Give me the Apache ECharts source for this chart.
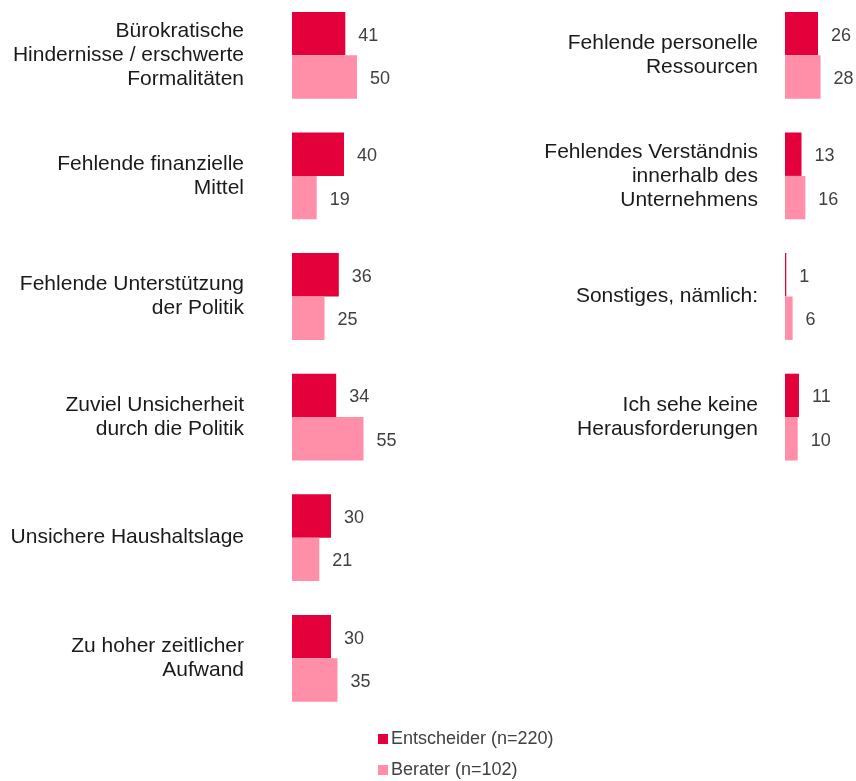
<!DOCTYPE html>
<html>
<head>
<meta charset="utf-8">
<script src="https://cdn.jsdelivr.net/npm/echarts@6/dist/echarts.min.js"></script>
<style>
  html, body { margin: 0; padding: 0; background: #fff; }
  #chart { width: 856px; height: 781px; }
</style>
</head>
<body>
<div id="chart"></div>
<script>
// left panel
const leftCategories = [
  'Bürokratische\nHindernisse / erschwerte\nFormalitäten',
  'Fehlende finanzielle\nMittel',
  'Fehlende Unterstützung\nder Politik',
  'Zuviel Unsicherheit\ndurch die Politik',
  'Unsichere Haushaltslage',
  'Zu hoher zeitlicher\nAufwand'
]
const leftEntscheider = [41, 40, 36, 34, 30, 30]
const leftBerater = [50, 19, 25, 55, 21, 35]

// right panel
const rightCategories = [
  'Fehlende personelle\nRessourcen',
  'Fehlendes Verständnis\ninnerhalb des\nUnternehmens',
  'Sonstiges, nämlich:',
  'Ich sehe keine\nHerausforderungen'
]
const rightEntscheider = [26, 13, 1, 11]
const rightBerater = [28, 16, 6, 10]

const seriesNames = ['Entscheider (n=220)', 'Berater (n=102)']
const colors = ['#E4003A', '#FF8FA8']

const font = 'Liberation Sans, Arial, sans-serif'
const band = 120.6

const chart = echarts.init(document.getElementById('chart'))

const catAxis = (idx, data, margin) => ({
  type: 'category',
  gridIndex: idx,
  data: data,
  inverse: true,
  axisLine: { show: false },
  axisTick: { show: false },
  axisLabel: {
    margin: margin,
    fontSize: 21,
    lineHeight: 24,
    padding: [6, 0, 0, 0],
    backgroundColor: 'rgba(255,255,255,0)',
    color: '#1a1a1a',
    fontFamily: font,
    align: 'right'
  }
})

const valAxis = (idx) => ({
  type: 'value',
  gridIndex: idx,
  min: 0,
  max: 100,
  show: false
})

const barSeries = (name, data, idx, color) => ({
  name: name,
  type: 'bar',
  xAxisIndex: idx,
  yAxisIndex: idx,
  data: data,
  barGap: '0%',
  barCategoryGap: '28%',
  itemStyle: { color: color },
  label: {
    show: true,
    position: 'right',
    distance: 13,
    offset: [0, 2],
    fontSize: 18,
    color: '#404040',
    fontFamily: font
  },
  animation: false
})

const option = {
  backgroundColor: '#fff',
  textStyle: { fontFamily: font },
  legend: {
    orient: 'vertical',
    left: 373,
    top: 725,
    height: 70,
    itemWidth: 10,
    itemHeight: 10,
    itemGap: 13,
    icon: 'rect',
    data: seriesNames,
    textStyle: { fontSize: 18, color: '#404040', fontFamily: font, padding: [0, 0, 0, -2] }
  },
  grid: [
    { left: 292, top: -5, width: 130, height: band * 6, outerBoundsMode: 'none' },
    { left: 785, top: -5, width: 127, height: band * 4, outerBoundsMode: 'none' }
  ],
  xAxis: [valAxis(0), valAxis(1)],
  yAxis: [catAxis(0, leftCategories, 48), catAxis(1, rightCategories, 27)],
  series: [
    barSeries(seriesNames[0], leftEntscheider, 0, colors[0]),
    barSeries(seriesNames[1], leftBerater, 0, colors[1]),
    barSeries(seriesNames[0], rightEntscheider, 1, colors[0]),
    barSeries(seriesNames[1], rightBerater, 1, colors[1])
  ]
}

chart.setOption(option)
</script>
</body>
</html>
